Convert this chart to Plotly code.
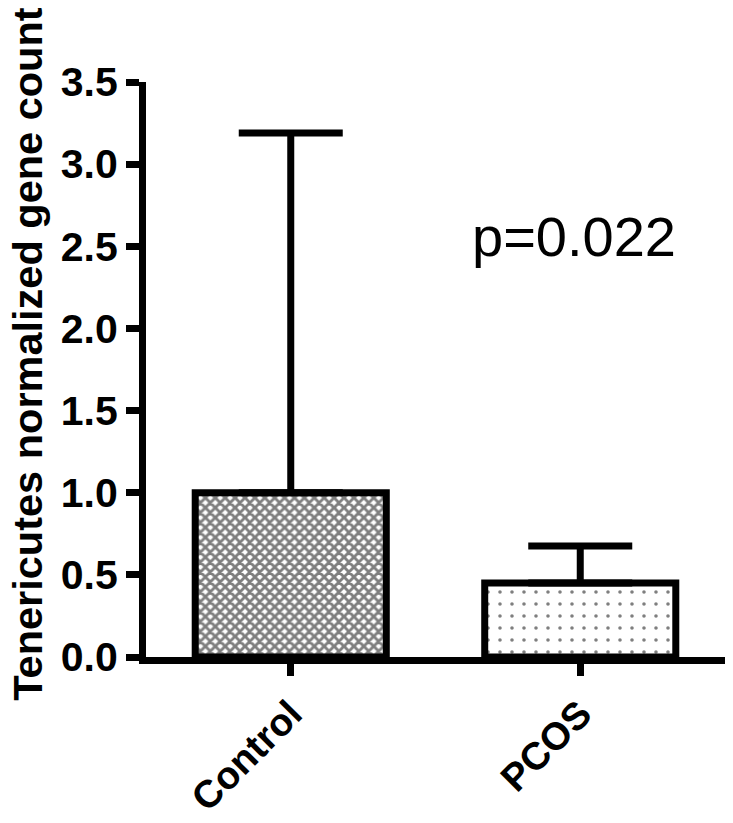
import plotly.graph_objects as go

categories = ["Control", "PCOS"]
means = [1.0, 0.45]
err_upper = [3.19, 0.675]
pattern_shapes = ["x", "."]
p_text = "p=0.022"
y_ticks = [0.0, 0.5, 1.0, 1.5, 2.0, 2.5, 3.0, 3.5]
y_title = "Tenericutes normalized gene count"

err_plus = [u - m for u, m in zip(err_upper, means)]

FONT = "Arial, Liberation Sans, sans-serif"

fig = go.Figure()
fig.add_trace(go.Bar(
    x=categories,
    y=means,
    width=0.66,
    marker=dict(
        color="white",
        line=dict(color="black", width=7),
        pattern=dict(
            shape=pattern_shapes,
            fgcolor="black",
            bgcolor="white",
            size=[7, 12],
            solidity=[0.65, 0.07],
        ),
    ),
    error_y=dict(
        type="data",
        symmetric=False,
        array=err_plus,
        arrayminus=[0, 0],
        color="black",
        thickness=7,
        width=52,
    ),
    showlegend=False,
))

fig.update_layout(
    width=733,
    height=823,
    margin=dict(l=146, r=8, t=82, b=166, autoexpand=False),
    plot_bgcolor="white",
    paper_bgcolor="white",
    xaxis=dict(
        range=[-0.5, 1.5],
        automargin=False,
        showline=True,
        linecolor="black",
        linewidth=7,
        ticks="outside",
        ticklen=12,
        tickwidth=7,
        tickcolor="black",
        tickangle=-45,
        tickfont=dict(family=FONT, size=38.5, color="black", weight="bold"),
        showgrid=False,
        zeroline=False,
    ),
    yaxis=dict(
        range=[0, 3.5],
        automargin=False,
        tickvals=y_ticks,
        ticktext=[f"{v:.1f}" for v in y_ticks],
        showline=True,
        linecolor="black",
        linewidth=7,
        ticks="outside",
        ticklen=13,
        tickwidth=7,
        tickcolor="black",
        tickfont=dict(family=FONT, size=41, color="black", weight="bold"),
        showgrid=False,
        zeroline=False,
    ),
    annotations=[
        dict(
            text=y_title,
            xref="paper", yref="paper",
            x=-0.205, y=0.528,
            textangle=-90,
            showarrow=False,
            font=dict(family=FONT, size=41.5, color="black", weight="bold"),
            xanchor="center", yanchor="middle",
        ),
        dict(
            text=p_text,
            xref="x", yref="y",
            x=0.98, y=2.56,
            showarrow=False,
            font=dict(family=FONT, size=56, color="black"),
            xanchor="center", yanchor="middle",
        ),
    ],
)

fig.write_html(
    "out.html",
    config={"displayModeBar": False},
    post_script="document.body.style.margin='0';document.body.style.overflow='hidden';",
)
